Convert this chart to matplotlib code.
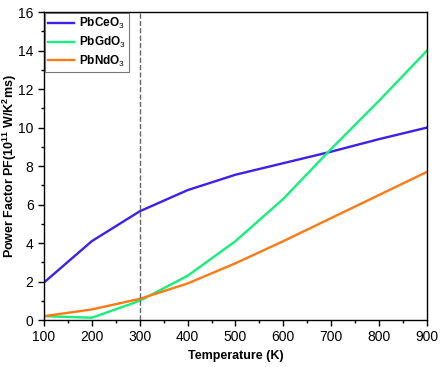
import matplotlib
matplotlib.use('Agg')
import matplotlib.pyplot as plt
from matplotlib.ticker import MultipleLocator

plt.rcParams['font.family'] = ['Liberation Sans', 'DejaVu Sans']
plt.rcParams['mathtext.fontset'] = 'custom'
plt.rcParams['mathtext.rm'] = 'Liberation Sans'
plt.rcParams['mathtext.bf'] = 'Liberation Sans:bold'

temperature = [100, 200, 300, 400, 500, 600, 700, 800, 900]
pf_ce = [1.95, 4.1, 5.65, 6.75, 7.55, 8.15, 8.75, 9.4, 10.0]
pf_gd = [0.2, 0.12, 1.0, 2.3, 4.1, 6.3, 8.9, 11.4, 14.0]
pf_nd = [0.2, 0.55, 1.1, 1.9, 2.95, 4.1, 5.3, 6.5, 7.7]

fig = plt.figure(figsize=(4.42, 3.67), dpi=100)
ax = fig.add_axes([0.0995, 0.128, 0.8665, 0.839])

ax.plot(temperature, pf_ce, color='#3d1ff0', lw=1.7, label='PbCeO$_3$')
ax.plot(temperature, pf_gd, color='#14f07c', lw=1.7, label='PbGdO$_3$')
ax.plot(temperature, pf_nd, color='#ff7a12', lw=1.7, label='PbNdO$_3$')
ax.axvline(300, color='#666666', ls='--', lw=1)

ax.set_xlim(100, 900)
ax.set_ylim(0, 16)
ax.xaxis.set_major_locator(MultipleLocator(100))
ax.xaxis.set_minor_locator(MultipleLocator(50))
ax.yaxis.set_major_locator(MultipleLocator(2))
ax.yaxis.set_minor_locator(MultipleLocator(1))
ax.tick_params(which='major', direction='out', length=4, width=1, labelsize=10)
ax.tick_params(which='minor', direction='out', length=2.5, width=1)
for s in ax.spines.values():
    s.set_linewidth(1)

ax.set_xlabel('Temperature (K)', fontweight='bold', fontsize=9)
ax.set_ylabel(r'Power Factor PF(10$^{\mathbf{11}}$ W/K$^{\mathbf{2}}$ms)', fontweight='bold', fontsize=9)
ax.yaxis.set_label_coords(-0.066, 0.5)

leg = ax.legend(loc='upper left', frameon=True, fancybox=False,
                borderaxespad=0.05, handlelength=2.2, handletextpad=0.4,
                borderpad=0.3, labelspacing=0.3,
                prop={'weight': 'bold', 'size': 8.5})
leg.get_frame().set_edgecolor('#555555')
leg.get_frame().set_linewidth(0.8)

fig.savefig('out.png', dpi=100)
